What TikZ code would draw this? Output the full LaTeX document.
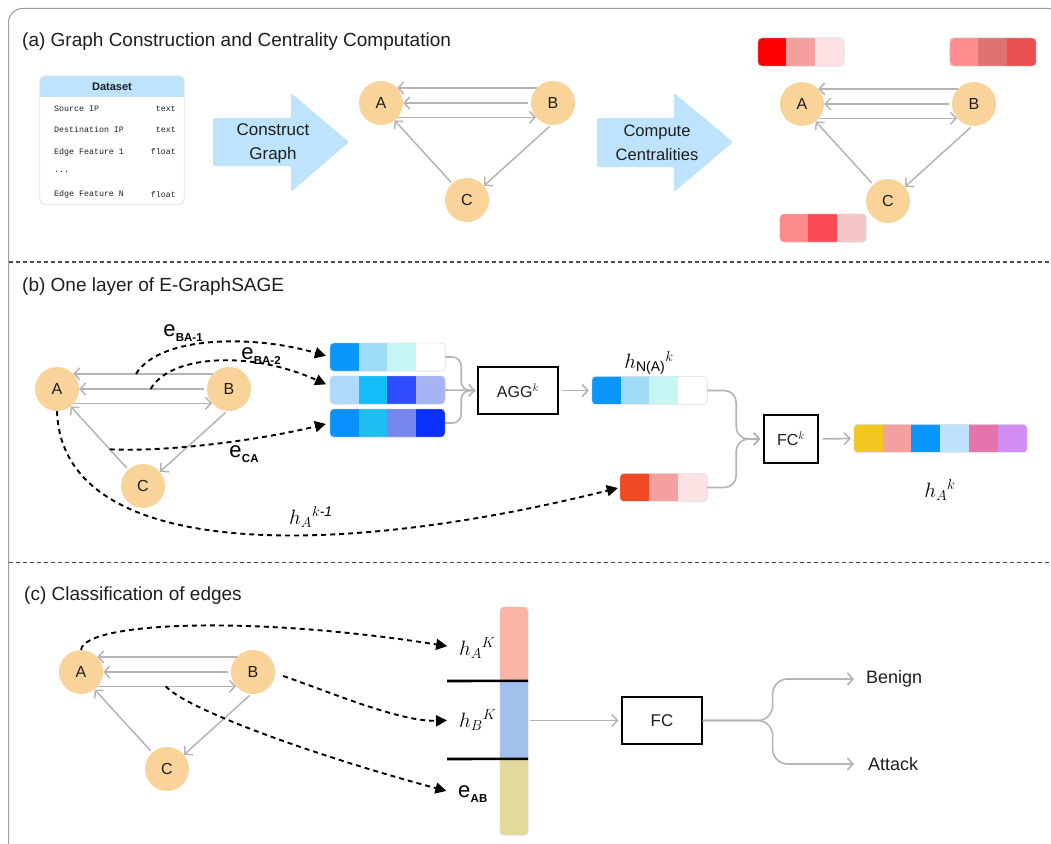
\documentclass[tikz,border=0pt]{standalone}
\usepackage{amsmath}
\usepackage{fontspec}
\setmainfont{Liberation Sans}
\setmonofont{Liberation Mono}
\usetikzlibrary{arrows.meta,calc}

\definecolor{peach}{HTML}{FAD39B}
\definecolor{lblue}{HTML}{BEE3FD}
\definecolor{edgegray}{HTML}{B4B4B4}
\definecolor{txt}{HTML}{1E1E1E}
\definecolor{rA1}{HTML}{FF0000}
\definecolor{rA2}{HTML}{F4A09E}
\definecolor{rA3}{HTML}{FDE2E3}
\definecolor{rB1}{HTML}{FF8F8F}
\definecolor{rB2}{HTML}{E07272}
\definecolor{rB3}{HTML}{EB5050}
\definecolor{rC1}{HTML}{FF8A8A}
\definecolor{rC2}{HTML}{FA4A55}
\definecolor{rC3}{HTML}{F5C6C6}
\definecolor{bl1}{HTML}{0A96FA}
\definecolor{bl2}{HTML}{A0DCF5}
\definecolor{bl3}{HTML}{C6F5F3}
\definecolor{bm1}{HTML}{AEDAFC}
\definecolor{bm2}{HTML}{12BDF8}
\definecolor{bm3}{HTML}{2F4DFD}
\definecolor{bm4}{HTML}{A6B4F4}
\definecolor{bn1}{HTML}{0A90FA}
\definecolor{bn2}{HTML}{22BDF0}
\definecolor{bn3}{HTML}{7587EC}
\definecolor{bn4}{HTML}{0A30FD}
\definecolor{rd1}{HTML}{F04A24}
\definecolor{o1}{HTML}{F2C71F}
\definecolor{o2}{HTML}{F4A09E}
\definecolor{o3}{HTML}{0A96FA}
\definecolor{o4}{HTML}{BEE2FC}
\definecolor{o5}{HTML}{E674AC}
\definecolor{o6}{HTML}{D48CF5}
\definecolor{tpink}{HTML}{F9B4A6}
\definecolor{tblue}{HTML}{A3BFEB}
\definecolor{tolive}{HTML}{E2D99C}

\newcommand\fsz[1]{\fontsize{#1}{#1}\selectfont}
\newcommand\elab[1]{{\fsz{22}e}\kern0.3pt\raisebox{-4.5pt}{\fsz{11.5}\bfseries #1}}

% graph of three nodes: prefix, x of A, y of A
\newcommand\abcgraph[3]{%
  \node[gnode] (#1A) at (#2,#3) {A};
  \node[gnode] (#1B) at ($(#1A)+(172,0)$) {B};
  \node[gnode] (#1C) at ($(#1A)+(86,97)$) {C};
  \draw[gedge] (#1B.137) -- coordinate[pos=0.55] (#1top) (#1A.43);
  \draw[gedge,shorten <=3pt] (#1B) -- coordinate[pos=0.44] (#1mid) (#1A);
  \draw[gedge] (#1A.-40) -- coordinate[pos=0.49] (#1bot) (#1B.-140);
  \draw[gedge,shorten <=2pt] (#1B.-95) -- (#1C.40);
  \draw[gedge,shorten <=2pt] (#1C.132) -- coordinate[pos=0.32] (#1ca) (#1A.-52);
}

% colour bar: name, centre, number of cells, cell width, colours
\newcommand\colbar[5]{%
  \node[inner sep=0pt,minimum width={#3*#4pt},minimum height=28pt] (#1) at (#2) {};
  \begin{scope}
    \clip[rounded corners=4pt] (#1.north west) rectangle (#1.south east);
    \foreach \cc [count=\ii from 0] in {#5} {
      \fill[\cc] ($(#1.north west)+(\ii*#4,0)$) rectangle ++(#4+0.3,28);
    }
  \end{scope}
  \draw[black!13,line width=0.6pt,rounded corners=4pt] (#1.north west) rectangle (#1.south east);
}

\begin{document}
\begin{tikzpicture}[x=1pt,y=-1pt,
  gnode/.style={circle,fill=peach,minimum size=44pt,inner sep=0pt,font=\fsz{16},text=txt},
  gedge/.style={draw=edgegray,line width=1.5pt,-{Straight Barb[length=5.5pt,width=12pt]}},
  conn/.style={draw=edgegray,line width=1.6pt,rounded corners=9pt},
  barb/.style={-{Straight Barb[length=5.5pt,width=12pt]}},
  dasharrow/.style={draw=black,line width=1.9pt,dash pattern=on 5pt off 4pt,-{Triangle[length=11pt,width=11pt]}},
  opbox/.style={draw=black,line width=1.3pt,fill=white,inner sep=0pt,font=\fsz{16},text=txt},
  title/.style={anchor=base west,inner sep=0pt,font=\fsz{19},text=txt},
  mono/.style={inner sep=0pt,font=\ttfamily\fsz{8.3},text=txt},
  hlab/.style={inner sep=0pt,font=\fsz{20}},
  elabel/.style={inner sep=0pt,text=black},
  blocktext/.style={align=center,inner sep=0pt,font=\fontsize{17}{24.5}\selectfont,text=txt}
]
\useasboundingbox (0,0) rectangle (1051,843);
\clip (0,0) rectangle (1051,843);
\fill[white] (0,0) rectangle (1051,843);

% frame and separators
\draw[black!38,line width=1pt,rounded corners=14pt] (8.5,8.5) rectangle (1062,858);
\draw[black!70,line width=1.2pt,dash pattern=on 4pt off 3pt] (8.5,262) -- (1051,262);
\draw[black!70,line width=1.2pt,dash pattern=on 4pt off 3pt] (8.5,562.5) -- (1051,562.5);

% ---------------- (a) ----------------
\node[title] (ta) at (22,46) {(a) Graph Construction and Centrality Computation};

\node[inner sep=0pt,minimum width=144pt,minimum height=128pt] (ds) at (112,140) {};
\begin{scope}
  \clip[rounded corners=5pt] (ds.north west) rectangle (ds.south east);
  \fill[lblue] (ds.north west) rectangle ($(ds.north east)+(0,21)$);
\end{scope}
\draw[black!10,line width=0.8pt,rounded corners=5pt] (ds.north west) rectangle (ds.south east);
\node[inner sep=0pt,font=\bfseries\fsz{11},text=txt] (dstitle) at ($(ds.north)+(0,10.5)$) {Dataset};
\node[mono,anchor=west] (r1) at (54,108.5) {Source IP};
\node[mono,anchor=east] (t1) at (176,108.5) {text};
\node[mono,anchor=west] (r2) at (54,130) {Destination IP};
\node[mono,anchor=east] (t2) at (176,130) {text};
\node[mono,anchor=west] (r3) at (54,152) {Edge Feature 1};
\node[mono,anchor=east] (t3) at (176,152) {float};
\node[mono,anchor=west] (r4) at (54,172) {...};
\node[mono,anchor=west] (r5) at (54,194.5) {Edge Feature N};
\node[mono,anchor=east] (t5) at (176,194.5) {float};

\fill[lblue,rounded corners=2pt] (213,118) -- (291,118) -- (291,93) -- (349,142) -- (291,192) -- (291,166) -- (213,166) -- cycle;
\node[blocktext] (construct) at (273,143.5) {Construct\\Graph};

\abcgraph{g}{381}{103}

\fill[lblue,rounded corners=2pt] (597,118) -- (674,118) -- (674,93) -- (733,142) -- (674,192) -- (674,167) -- (597,167) -- cycle;
\node[blocktext,font=\fontsize{16.5}{23.5}\selectfont] (compute) at (657,143) {Compute\\Centralities};

\abcgraph{h}{802}{104}
\colbar{cbA}{801,52}{3}{28.7}{rA1,rA2,rA3}
\colbar{cbB}{993,52}{3}{28.7}{rB1,rB2,rB3}
\colbar{cbC}{823,228}{3}{28.7}{rC1,rC2,rC3}

% ---------------- (b) ----------------
\node[title] (tb) at (22,291) {(b) One layer of E-GraphSAGE};
\abcgraph{b}{57}{389}

\colbar{brow1}{387.5,357}{4}{28.75}{bl1,bl2,bl3,white}
\colbar{brow2}{387.5,390}{4}{28.75}{bm1,bm2,bm3,bm4}
\colbar{brow3}{387.5,423}{4}{28.75}{bn1,bn2,bn3,bn4}

\node[opbox,minimum width=80pt,minimum height=47pt] (agg) at (518,390.5) {AGG$^{k}$};
\colbar{hn}{649.5,390.5}{4}{28.75}{bl1,bl2,bl3,white}
\colbar{redbar}{663.5,487.5}{3}{29}{rd1,rA2,rA3}
\node[opbox,minimum width=54pt,minimum height=48pt] (fck) at (791,439) {FC$^{k}$};
\colbar{outbar}{940.5,438.5}{6}{28.83}{o1,o2,o3,o4,o5,o6}

\draw[conn,shorten >=2pt] (brow1.east) -- ++(16,0) |- (agg.west);
\draw[conn,shorten >=2pt] (brow3.east) -- ++(16,0) |- (agg.west);
\draw[conn,barb,shorten >=2pt] (brow2.east) -- (agg.west);
\draw[gedge,line width=1.6pt,shorten <=3pt,shorten >=3pt] (agg.east) -- (hn.west);
\draw[conn,rounded corners=12pt,barb,shorten >=3pt] (hn.east) -- ++(29,0) |- (fck.west);
\draw[conn,rounded corners=12pt,barb,shorten >=3pt] (redbar.east) -- ++(29,0) |- (fck.west);
\draw[gedge,line width=1.6pt,shorten <=4pt,shorten >=3pt] (fck.east) -- (outbar.west);

\node[elabel] (lba1) at (183,333) {\elab{BA-1}};
\node[elabel] (lba2) at (261,356) {\elab{BA-2}};
\node[elabel] (lca) at (244,454) {\elab{CA}};
\node[hlab] (lhk1) at (311,517) {$h_{A}{}^{k\text{\itshape -1}}$};
\node[hlab] (lhn) at (649,363) {$h_{\text{N(A)}}{}^{k}$};
\node[hlab] (lhak) at (940,490) {$h_{A}{}^{k}$};

\draw[dasharrow,shorten >=4pt] (btop) .. controls (160,335) and (255,335) .. (brow1.west);
\draw[dasharrow,shorten >=4pt] (bmid) .. controls (170,355) and (250,350) .. ($(brow2.west)+(0,-4)$);
\draw[dasharrow,shorten >=4pt] (bca) .. controls (170,452) and (260,440) .. (brow3.west);
\draw[dasharrow,shorten >=2pt] (bA.south) .. controls (62,560) and (330,560) .. (redbar.west);

% ---------------- (c) ----------------
\node[title] (tc) at (24,600) {(c) Classification of edges};
\abcgraph{c}{81}{672}

\node[inner sep=0pt,minimum width=28pt,minimum height=228pt] (tall) at (514,721) {};
\begin{scope}
  \clip[rounded corners=4pt] (tall.north west) rectangle (tall.south east);
  \fill[tpink] (tall.north west) rectangle ($(tall.north east)+(0,74)$);
  \fill[tblue] ($(tall.north west)+(0,74)$) rectangle ($(tall.north east)+(0,152)$);
  \fill[tolive] ($(tall.north west)+(0,152)$) rectangle (tall.south east);
\end{scope}
\draw[black!12,line width=0.6pt,rounded corners=4pt] (tall.north west) rectangle (tall.south east);
\draw[black,line width=2.6pt] (447,681) -- ($(tall.north east)+(0,74)$);
\draw[black,line width=2.6pt] (447,759) -- ($(tall.north east)+(0,152)$);

\node[hlab,anchor=west] (lhAK) at (459,648) {$h_{A}{}^{K}$};
\node[hlab,anchor=west] (lhBK) at (459,720) {$h_{B}{}^{K}$};
\node[elabel,anchor=west] (leAB) at (458,794) {\elab{AB}};

\coordinate (hbs) at ($(cB.east)+(8,4)$);
\draw[dasharrow,shorten >=12pt] (cA.north) .. controls (85,622) and (250,615) .. (lhAK.west);
\draw[dasharrow,shorten >=12pt] (hbs) .. controls (330,692) and (400,722) .. (lhBK.west);
\draw[dasharrow,shorten >=12pt] (cbot) .. controls (190,712) and (330,760) .. (leAB.west);

\node[opbox,minimum width=80pt,minimum height=47pt,font=\fsz{17}] (fcc) at (662,720.5) {FC};
\node[anchor=west,inner sep=0pt,font=\fsz{18},text=txt] (benign) at (866,679) {Benign};
\node[anchor=west,inner sep=0pt,font=\fsz{18},text=txt] (attack) at (868,764) {Attack};
\coordinate (split) at ($(fcc.east)+(70,0)$);
\coordinate (benarr) at ($(benign.west)+(-12,0)$);
\coordinate (attarr) at ($(attack.west)+(-14,0)$);

\draw[gedge,shorten <=2pt,shorten >=3pt] (tall.east |- fcc.west) -- (fcc.west);
\draw[conn,rounded corners=15pt,barb] (fcc.east) -- (split) |- (benarr);
\draw[conn,rounded corners=15pt,barb] (fcc.east) -- (split) |- (attarr);
\end{tikzpicture}
\end{document}
